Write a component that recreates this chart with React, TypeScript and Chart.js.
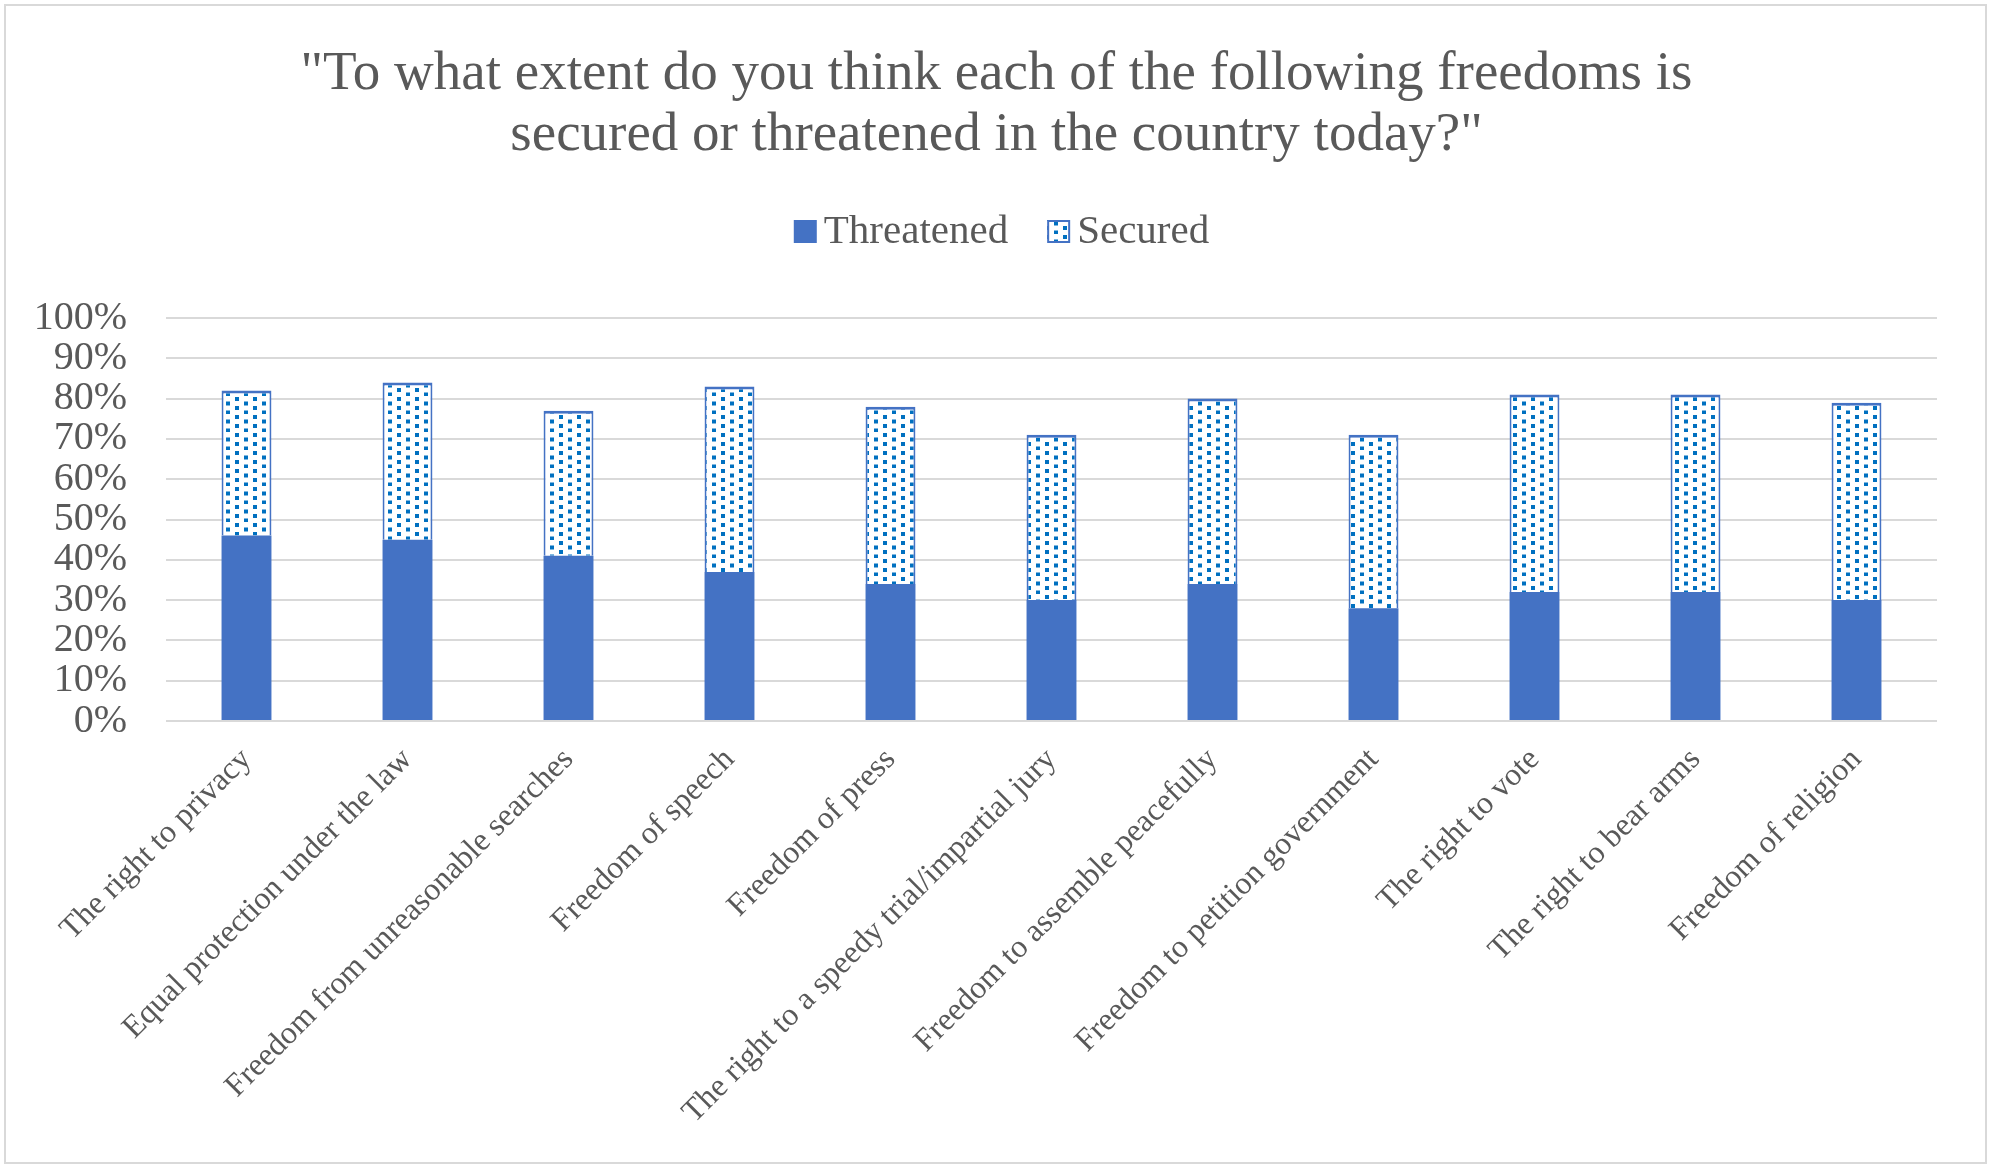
import React, { useEffect, useRef } from 'react';
import { Chart, registerables } from 'chart.js';

Chart.register(...registerables);

const categories = [
  'The right to privacy',
  'Equal protection under the law',
  'Freedom from unreasonable searches',
  'Freedom of speech',
  'Freedom of press',
  'The right to a speedy trial/impartial jury',
  'Freedom to assemble peacefully',
  'Freedom to petition government',
  'The right to vote',
  'The right to bear arms',
  'Freedom of religion',
];
const threatened = [46, 45, 41, 37, 34, 30, 34, 28, 32, 32, 30];
const secured = [36, 39, 36, 46, 44, 41, 46, 43, 49, 49, 49];
const seriesNames = ['Threatened', 'Secured'];
const titleLines = [
  '"To what extent do you think each of the following freedoms is',
  'secured or threatened in the country today?"',
];
const yMax = 100;
const yStep = 10;

const FONT = '"Liberation Serif", "Times New Roman", serif';
const TEXT = '#595959';
const GRID = '#d9d9d9';
const BLUE = '#4472C4';
const DOT = '#0070C0';

function makePattern(): CanvasPattern | string {
  const c = document.createElement('canvas');
  c.width = 18;
  c.height = 18;
  const g = c.getContext('2d');
  if (!g) return '#ffffff';
  g.fillStyle = '#ffffff';
  g.fillRect(0, 0, 18, 18);
  g.fillStyle = DOT;
  g.fillRect(1, 1, 4, 4);
  g.fillRect(1, 10, 4, 4);
  g.fillRect(10, 5.5, 4, 4);
  g.fillRect(10, 14.5, 4, 4);
  return g.createPattern(c, 'repeat') || '#ffffff';
}

const titleLegendPlugin = {
  id: 'titleLegend',
  afterDraw(chart: any) {
    const ctx = chart.ctx as CanvasRenderingContext2D;
    const cx = chart.width / 2;
    ctx.save();
    // title
    ctx.font = `55px ${FONT}`;
    ctx.fillStyle = TEXT;
    ctx.textAlign = 'center';
    ctx.textBaseline = 'middle';
    titleLines.forEach((line, i) => ctx.fillText(line, cx, 74.5 + i * 61));

    // legend
    ctx.font = `41px ${FONT}`;
    const box = 23;
    const gap = 7;
    const spacing = 39;
    const ds = chart.data.datasets;
    const widths = ds.map((d: any) => ctx.measureText(d.label).width);
    const total =
      widths.reduce((a: number, w: number) => a + box + gap + w, 0) + spacing * (ds.length - 1);
    let x = 1001.5 - total / 2;
    const baseline = 243;
    ds.forEach((d: any, i: number) => {
      ctx.fillStyle = d.backgroundColor;
      ctx.fillRect(x, baseline - box, box, box);
      if (d.borderWidth) {
        ctx.strokeStyle = d.borderColor;
        ctx.lineWidth = 2;
        ctx.strokeRect(x + 1, baseline - box + 1, box - 2, box - 2);
      }
      ctx.fillStyle = TEXT;
      ctx.textAlign = 'left';
      ctx.textBaseline = 'alphabetic';
      ctx.fillText(d.label, x + box + gap, baseline);
      x += box + gap + widths[i] + spacing;
    });
    ctx.restore();
  },
};

export default function App() {
  const ref = useRef<HTMLCanvasElement | null>(null);

  useEffect(() => {
    document.body.style.margin = '0';
    const canvas = ref.current;
    if (!canvas) return;
    const pattern = makePattern();
    const chart = new Chart(canvas, {
      type: 'bar',
      data: {
        labels: categories,
        datasets: [
          {
            label: seriesNames[0],
            data: threatened,
            backgroundColor: BLUE,
            borderWidth: 0,
            categoryPercentage: 1,
            barPercentage: 0.31,
          },
          {
            label: seriesNames[1],
            data: secured,
            backgroundColor: pattern as any,
            borderColor: BLUE,
            borderWidth: { top: 3, left: 2, right: 2, bottom: 0 } as any,
            borderSkipped: 'bottom',
            categoryPercentage: 1,
            barPercentage: 0.31,
          },
        ],
      },
      options: {
        responsive: false,
        animation: false,
        devicePixelRatio: 1,
        layout: { padding: { left: 0, right: 56, top: 318, bottom: 10 } },
        plugins: {
          legend: { display: false },
          tooltip: { enabled: false },
          title: { display: false },
        },
        scales: {
          x: {
            stacked: true,
            grid: { display: false },
            border: { display: false },
            ticks: {
              autoSkip: false,
              maxRotation: 45,
              minRotation: 45,
              color: TEXT,
              font: { family: FONT, size: 32 },
              padding: 12,
            },
            afterFit: (scale: any) => {
              scale.height = 1168 - 10 - 721;
            },
          },
          y: {
            stacked: true,
            min: 0,
            max: yMax,
            grid: { color: GRID, lineWidth: 2, drawTicks: false },
            border: { display: false },
            ticks: {
              stepSize: yStep,
              autoSkip: false,
              color: TEXT,
              font: { family: FONT, size: 40 },
              padding: 39,
              callback: (v: any) => `${v}%`,
            },
            afterFit: (scale: any) => {
              scale.width = 166;
            },
          },
        },
      },
      plugins: [titleLegendPlugin],
    });
    return () => chart.destroy();
  }, []);

  return (
    <div style={{ position: 'absolute', left: 0, top: 0, width: 1993, height: 1168, background: '#fff' }}>
      <canvas ref={ref} width={1993} height={1168} style={{ position: 'absolute', left: 0, top: 0 }} />
      <div
        style={{
          position: 'absolute',
          left: 4,
          top: 4,
          width: 1983,
          height: 1160,
          border: `2px solid ${GRID}`,
          boxSizing: 'border-box',
          pointerEvents: 'none',
        }}
      />
    </div>
  );
}
